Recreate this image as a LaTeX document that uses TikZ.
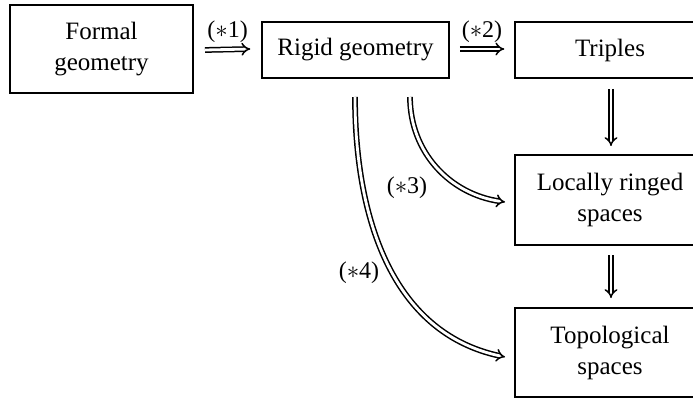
\documentclass[tikz,border=0pt]{standalone}
\usepackage{fontspec}
\setmainfont{Liberation Serif}
\usetikzlibrary{arrows.meta}
\begin{document}
\begin{tikzpicture}[x=1pt,y=-1pt,
  box/.style={draw,rectangle,align=center,inner sep=0pt,font=\fontsize{25}{31}\selectfont},
  thickbox/.style={box,line width=2pt},
  thinbox/.style={box,line width=1.5pt},
  imp/.style={double,double distance=2.8pt,line width=1.5pt,-{Implies}},
  lab/.style={font=\fontsize{24}{26}\selectfont,inner sep=0pt}]
\useasboundingbox (0,0) rectangle (693,398);
\clip (0,0) rectangle (693,398);
\node[thickbox,minimum width=183pt,minimum height=88pt] (fg) at (101.5,49) {Formal\\geometry};
\node[thinbox,minimum width=187pt,minimum height=56pt] (rg) at (355.5,50) {Rigid geometry};
\node[thinbox,minimum width=190pt,minimum height=56pt] (tr) at (610,50) {Triples};
\node[thickbox,minimum width=190pt,minimum height=90pt] (lr) at (610,200) {Locally ringed\\spaces};
\node[thickbox,minimum width=190pt,minimum height=89pt] (ts) at (610,352.5) {Topological\\spaces};
\coordinate (s3) at (410,97);
\coordinate (e3) at (505,202);
\coordinate (s4) at (355,97);
\coordinate (e4) at (505,357);
\coordinate (v1s) at (611,89);
\coordinate (v1e) at (611,146);
\coordinate (v2s) at (611,255);
\coordinate (v2e) at (611,298);
\draw[imp] (fg.east) ++(11,1) -- node[lab,above=6pt] {(${*}$1)} ([xshift=-11pt,yshift=1pt]rg.west);
\draw[imp] ([xshift=10pt,yshift=1pt]rg.east) -- node[lab,above=6pt] {(${*}$2)} ([xshift=-10pt,yshift=1pt]tr.west);
\draw[imp] (v1s) -- (v1e);
\draw[imp] (v2s) -- (v2e);
\draw[imp] (s3) to[out=-90,in=172] (e3);
\draw[imp] (s4) to[out=-90,in=168] (e4);
\node[lab] (l3) at (407,188) {(${*}$3)};
\node[lab] (l4) at (359,273) {(${*}$4)};
\end{tikzpicture}
\end{document}
